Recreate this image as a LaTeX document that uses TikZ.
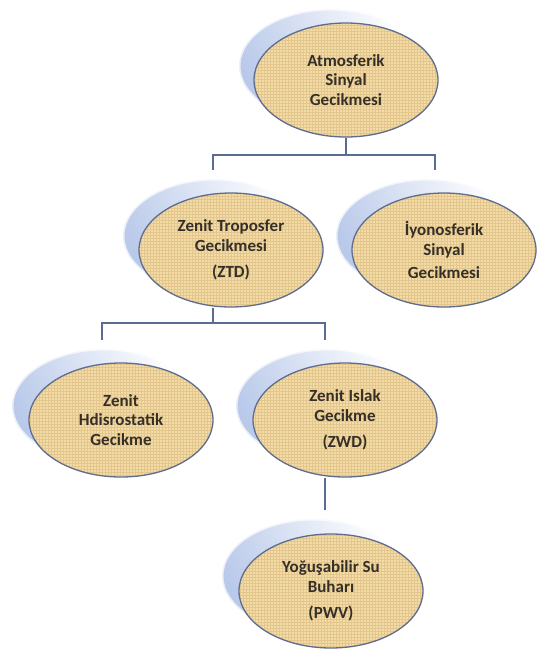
\documentclass[tikz,border=0pt]{standalone}
\usepackage{fontspec}
\setmainfont{Carlito}
\usetikzlibrary{shapes.geometric,patterns,backgrounds}
\definecolor{fillc}{HTML}{F2DCA8}
\definecolor{texc}{HTML}{E4C68C}
\definecolor{edgec}{HTML}{5F6C8E}
\definecolor{linec}{HTML}{5A6C96}
\definecolor{shadc}{HTML}{B9C9EA}
\definecolor{txtc}{HTML}{352F28}
\tikzset{
  bubble/.style={ellipse, draw=edgec, line width=1.3pt,
    preaction={fill=fillc}, preaction={pattern=grid, pattern color=texc},
    minimum width=184pt, minimum height=114pt, inner sep=0pt, align=center,
    font=\fontsize{17}{19.5}\selectfont\bfseries, text=txtc},
  shadowbubble/.style={ellipse, minimum width=184pt, minimum height=114pt,
    inner sep=0pt, left color=shadc, right color=white, shading angle=115,
    draw=white, draw opacity=0.7, line width=3pt},
  conn/.style={draw=linec, line width=1.6pt}
}
\begin{document}
\begin{tikzpicture}[x=1pt,y=1pt]
\useasboundingbox (0,0) rectangle (542,-649);

\node[bubble] (top) at (346,-80) {Atmosferik\\Sinyal\\Gecikmesi};
\node[bubble] (ztd) at (231,-250) {Zenit Troposfer\\Gecikmesi\\[7pt](ZTD)};
\node[bubble] (iyo) at (444,-250) {İyonosferik\\Sinyal\\[4pt]Gecikmesi};
\node[bubble] (hid) at (121,-420) {Zenit\\Hdisrostatik\\Gecikme};
\node[bubble] (zwd) at (345,-420) {Zenit Islak\\Gecikme\\[7pt](ZWD)};
\node[bubble] (pwv) at (331,-591) {Yoğuşabilir Su\\Buharı\\[7pt](PWV)};

\begin{scope}[on background layer]
  \fill[white] (0,0) rectangle (542,-649);
  \node[shadowbubble] (s1) at ([shift={(-15,14)}]top.center) {};
  \node[shadowbubble] (s2) at ([shift={(-16,14)}]ztd.center) {};
  \node[shadowbubble] (s3) at ([shift={(-16,14)}]iyo.center) {};
  \node[shadowbubble] (s4) at ([shift={(-17,14)}]hid.center) {};
  \node[shadowbubble] (s5) at ([shift={(-17,14)}]zwd.center) {};
  \node[shadowbubble] (s6) at ([shift={(-17,15)}]pwv.center) {};

  \coordinate (j1) at (346,-155);
  \coordinate (e1) at (213,-170);
  \coordinate (e2) at (435,-170);
  \coordinate (j2) at (213,-323);
  \coordinate (e3) at (102,-340);
  \coordinate (e4) at (325,-340);
  \coordinate (e5) at (325,-510);

  \draw[conn] (top.south) -- (j1) -| (e1);
  \draw[conn] (j1) -| (e2);
  \draw[conn] (ztd.south -| j2) -- (j2) -| (e3);
  \draw[conn] (j2) -| (e4);
  \draw[conn] (zwd.south -| e5) -- (e5);
\end{scope}
\end{tikzpicture}
\end{document}
